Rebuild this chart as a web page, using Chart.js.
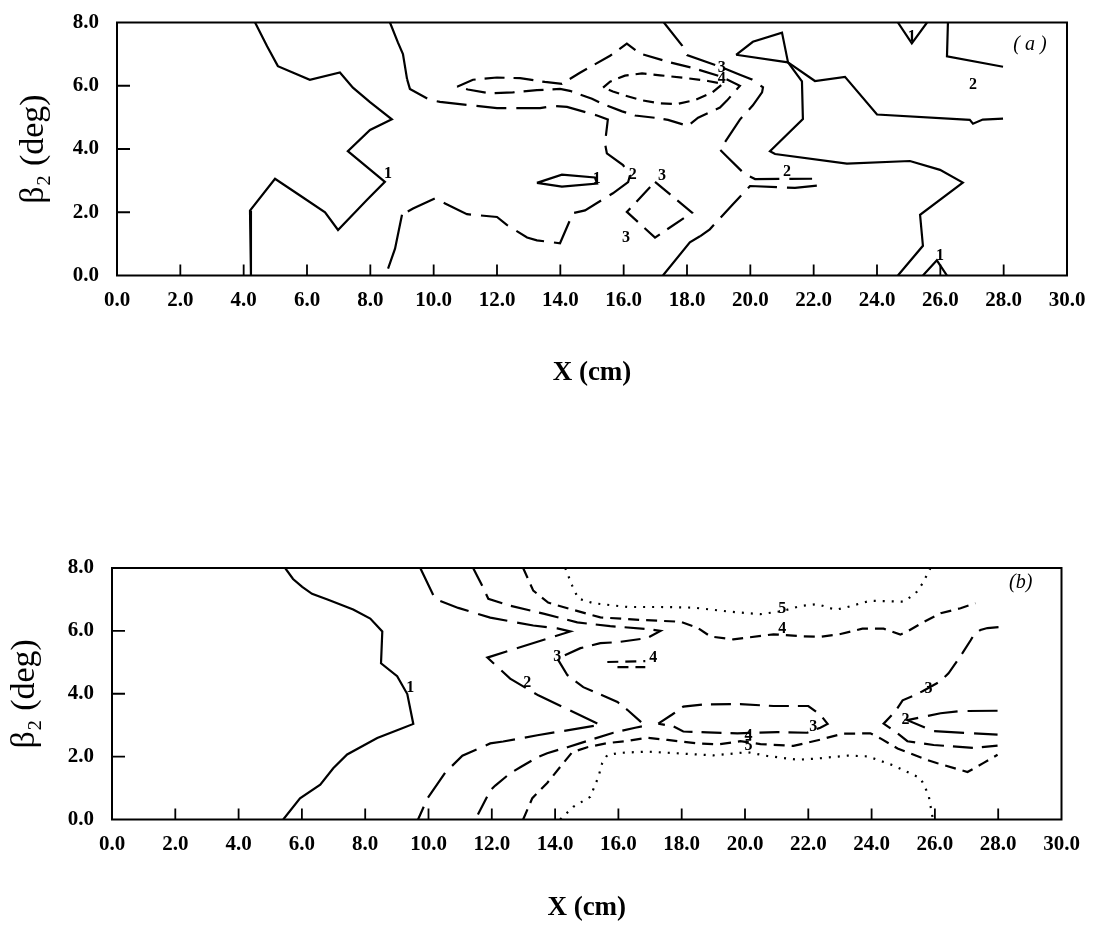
<!DOCTYPE html>
<html><head><meta charset="utf-8">
<script src="https://cdn.jsdelivr.net/npm/chart.js@4.4.1/dist/chart.umd.min.js"></script>
<style>
html,body{margin:0;padding:0;background:#fff;width:1094px;height:938px;overflow:hidden;}
canvas{position:absolute;left:0;}
#ca{top:0;}
#cb{top:450px;}
</style></head><body>
<canvas id="ca" width="1094" height="400" style="width:1094px;height:400px"></canvas>
<canvas id="cb" width="1094" height="488" style="width:1094px;height:488px"></canvas>
<script>
// ---------- axes ----------
const xTickValues = [0,2,4,6,8,10,12,14,16,18,20,22,24,26,28,30];
const xTickLabels = ['0.0','2.0','4.0','6.0','8.0','10.0','12.0','14.0','16.0','18.0','20.0','22.0','24.0','26.0','28.0','30.0'];
const yTickValues = [0,2,4,6,8];
const yTickLabels = ['0.0','2.0','4.0','6.0','8.0'];
const xTitle = 'X (cm)';
const yTitle = 'β₂ (deg)';

// ---------- panel (a) contour lines: [x, y] ----------
const a1Left = [[4.36,8.0],[4.74,7.25],[5.08,6.62],[6.09,6.19],[7.04,6.42],[7.45,5.94],[7.99,5.48],[8.68,4.94],[7.99,4.60],[7.29,3.93],[8.46,2.96],[7.89,2.39],[6.98,1.44],[6.57,2.0],[5.78,2.53],[4.99,3.06],[4.20,2.05],[4.23,1.26],[4.23,0]];
const a1Top = [[8.62,8.0],[8.87,7.37],[9.03,7.0],[9.16,6.21]];
const a2Loop = [[9.16,6.21],[9.25,5.90],[9.88,5.55],[10.2,5.49],[12.0,5.29],[13.36,5.29],[13.77,5.36],[14.21,5.33],[15.16,5.06],[15.50,4.93],[15.41,4.18],[15.47,3.86],[15.98,3.49],[16.20,3.17],[16.14,2.95],[15.66,2.60],[14.78,2.06],[14.40,1.97],[13.99,1.02],[13.26,1.11],[12.95,1.20],[12.31,1.60],[12.0,1.85],[11.05,1.94],[10.36,2.28],[10.04,2.44],[9.35,2.12],[9.0,1.92]];
const a1Bottom = [[9.0,1.92],[8.78,0.85],[8.56,0.22]];
const a3Loop = [[10.74,5.97],[11.24,6.19],[12.0,6.26],[12.73,6.24],[13.51,6.12],[14.05,6.06],[14.62,6.41],[15.57,6.95],[16.10,7.33],[16.51,7.02],[17.46,6.74],[18.19,6.56],[19.10,6.28],[19.67,6.0],[19.26,5.53],[19.04,5.31],[18.35,4.99],[18.03,4.73],[17.40,4.92],[17.05,4.98],[16.36,5.06],[15.95,5.19],[15.31,5.44],[15.0,5.59],[14.30,5.84],[13.99,5.90],[13.26,5.86],[12.50,5.79],[11.78,5.76],[11.08,5.88],[10.74,5.97]];
const a4Loop = [[15.35,5.94],[15.57,6.13],[16.04,6.32],[16.58,6.39],[17.15,6.33],[18.0,6.24],[18.66,6.15],[19.13,6.06],[18.79,5.78],[18.25,5.55],[17.68,5.42],[17.08,5.45],[16.58,5.54],[16.04,5.69],[15.66,5.82],[15.35,5.94]];
const a2RightUpper = [[17.27,8.0],[17.84,7.28],[18.0,6.97],[19.13,6.57],[19.67,6.35],[20.05,6.20],[20.40,5.95],[20.37,5.79],[20.08,5.38],[19.67,4.93],[19.04,3.98],[19.29,3.73],[19.83,3.20],[20.15,3.05],[21.95,3.06]];
const a2RightLower = [[22.10,2.84],[21.41,2.77],[19.99,2.83],[19.45,2.25],[18.72,1.46],[18.41,1.24]];
const a2RightFoot = [[18.41,1.24],[18.09,1.05],[17.24,0]];
const a1Triangle = [[19.55,6.98],[20.08,7.39],[21.0,7.68],[21.19,6.74],[19.55,6.98]];
const a1RightUpper = [[21.19,6.74],[22.04,6.15],[22.99,6.28],[24.0,5.09],[26.93,4.92],[27.03,4.80],[27.34,4.93],[27.98,4.96]];
const a1RightLower = [[21.19,6.74],[21.63,6.14],[21.66,4.95],[20.62,3.93],[20.78,3.84],[23.05,3.54],[25.04,3.62],[25.99,3.34],[26.71,2.94],[25.36,1.92],[25.45,0.94],[24.66,0]];
const a1TopV = [[24.66,8.0],[25.10,7.34],[25.58,8.0]];
const a2TopRight = [[26.24,8.0],[26.21,6.93],[27.98,6.60]];
const a1BottomPeak = [[25.45,0],[25.89,0.48],[26.21,0]];
const a1SmallLoop = [[13.26,2.93],[14.05,3.19],[15.09,3.10],[15.16,2.91],[14.05,2.81],[13.26,2.93]];
const a3Diamond = [[16.99,2.96],[18.16,1.99],[16.99,1.20],[16.10,2.01],[16.99,2.96]];

const aLabelText = ['1','1','2','3','3','3','4','2','2','1','1'];
const aLabelX = [8.56,15.15,16.29,17.21,16.07,19.10,19.10,21.16,27.03,25.10,25.99];
const aLabelY = [3.21,3.05,3.17,3.15,1.19,6.57,6.22,3.28,6.03,7.56,0.63];

// ---------- panel (b) contour lines ----------
const b1 = [[5.47,8.0],[5.72,7.65],[6.01,7.40],[6.32,7.18],[6.83,6.99],[7.62,6.68],[8.16,6.39],[8.54,5.98],[8.50,4.97],[9.01,4.56],[9.33,3.99],[9.52,3.04],[9.11,2.88],[8.38,2.59],[7.43,2.07],[6.99,1.63],[6.58,1.11],[5.94,0.67],[5.41,0]];
const b2 = [[9.74,8.0],[10.21,7.01],[10.94,6.73],[11.95,6.42],[13.31,6.17],[14.07,6.08],[14.48,5.98],[13.78,5.76],[11.86,5.15],[12.58,4.48],[13.47,3.95],[14.39,3.51],[15.43,3.01],[13.44,2.68],[12.36,2.48],[11.95,2.42],[11.07,2.03],[10.53,1.49],[9.96,0.66],[9.67,0]];
const b2Right = [[27.98,3.46],[26.81,3.45],[26.18,3.38],[25.13,3.16],[25.96,2.81],[27.98,2.70]];
const b3 = [[11.41,8.0],[11.73,7.37],[11.89,7.02],[12.58,6.80],[13.63,6.55],[14.70,6.27],[15.74,6.15],[16.91,6.06],[17.33,6.0],[16.91,5.77],[15.97,5.64],[15.43,5.61],[14.80,5.45],[14.07,5.12],[14.39,4.59],[14.89,4.21],[15.97,3.74],[16.28,3.49],[16.85,2.98],[16.53,2.92],[15.84,2.76],[14.80,2.43],[14.39,2.30],[13.75,2.11],[13.44,1.98],[12.90,1.66],[12.58,1.47],[12.11,1.08],[11.95,0.92],[11.48,0]];
const b3Right = [[28.01,6.12],[27.66,6.09],[27.44,6.03],[27.22,5.86],[27.13,5.70],[26.87,5.29],[26.43,4.65],[26.18,4.40],[25.61,4.08],[25.29,3.92],[24.98,3.79],[24.75,3.44],[24.38,3.05],[24.82,2.74],[25.13,2.49],[25.96,2.37],[27.22,2.28],[27.98,2.35]];
const b3Loop = [[17.26,3.05],[17.70,3.34],[18.05,3.59],[18.68,3.66],[19.85,3.67],[20.90,3.61],[22.0,3.61],[22.38,3.33],[22.61,3.04],[22.38,2.92],[21.97,2.76],[21.02,2.78],[19.76,2.74],[18.81,2.77],[18.05,2.80],[17.74,2.96],[17.26,3.05]];
const b4Upper = [[12.99,8.0],[13.31,7.28],[13.78,6.90],[14.42,6.71],[15.43,6.43],[16.69,6.35],[17.96,6.29],[18.50,6.10],[18.91,5.82],[19.63,5.73],[20.90,5.89],[21.75,5.83],[22.38,5.81],[23.02,5.90],[23.71,6.07],[24.38,6.07],[24.91,5.88],[25.13,5.98],[25.55,6.23],[26.18,6.56],[26.81,6.72],[27.28,6.88]];
const b4Lower = [[12.99,0],[13.28,0.68],[13.75,1.16],[14.16,1.67],[14.54,2.14],[15.02,2.30],[15.65,2.43],[16.28,2.50],[16.91,2.60],[17.55,2.53],[18.53,2.42],[19.16,2.39],[19.85,2.49],[20.49,2.40],[21.53,2.34],[22.38,2.54],[23.08,2.73],[23.96,2.74],[24.28,2.58],[24.82,2.26],[25.77,1.89],[26.08,1.79],[27.03,1.51],[27.54,1.80],[27.98,2.06]];
const b4SmallUpper = [[15.65,5.01],[16.85,5.04]];
const b4SmallLower = [[15.97,4.85],[16.85,4.85]];
const b5Upper = [[14.32,8.0],[14.54,7.44],[14.73,7.03],[15.21,6.88],[16.28,6.76],[17.33,6.76],[18.37,6.74],[19.44,6.62],[20.49,6.53],[21.18,6.63],[21.75,6.79],[22.29,6.85],[22.86,6.67],[23.24,6.76],[23.96,6.96],[25.01,6.93],[25.39,7.19],[25.61,7.51],[25.86,8.0]];
const b5Lower = [[14.16,0],[14.57,0.40],[15.11,0.72],[15.37,1.36],[15.49,1.80],[15.65,2.05],[16.06,2.12],[16.91,2.16],[17.96,2.10],[19.0,2.04],[20.08,2.14],[20.71,2.02],[21.66,1.90],[22.16,1.93],[23.24,2.03],[23.87,2.01],[24.69,1.72],[25.55,1.31],[25.80,0.78],[25.93,0.05]];

const bLabelText = ['1','2','3','4','5','4','3','2','3','4','5'];
const bLabelX = [9.42,13.12,14.07,17.10,21.18,21.18,25.80,25.07,22.16,20.11,20.11];
const bLabelY = [4.18,4.36,5.16,5.14,6.69,6.05,4.17,3.16,2.95,2.65,2.33];

// ---------- styles per contour level ----------
const levelDash = {1: [], 2: [30,10], 3: [20,9], 4: [11,7], 5: [2,7]};

function line(pts, level) {
  return {
    data: pts.map(p => ({x: p[0], y: p[1]})),
    showLine: true, fill: false, tension: 0,
    borderColor: '#000', borderWidth: level === 5 ? 2.2 : 2.2,
    borderDash: levelDash[level], pointRadius: 0, pointHoverRadius: 0
  };
}

const serif = '"Liberation Serif", "DejaVu Serif", serif';

const framePlugin = {
  id: 'frame',
  afterDatasetsDraw(chart, args, opts) {
    const {ctx, chartArea: a} = chart;
    const xs = chart.scales.x, ys = chart.scales.y;
    ctx.save();
    ctx.strokeStyle = '#000';
    ctx.lineWidth = 2;
    ctx.strokeRect(a.left, a.top, a.right - a.left, a.bottom - a.top);
    ctx.lineWidth = 1.8;
    ctx.beginPath();
    xTickValues.forEach(v => {
      if (v <= 0 || v >= 30) return;
      const px = xs.getPixelForValue(v);
      ctx.moveTo(px, a.bottom); ctx.lineTo(px, a.bottom - 11);
    });
    yTickValues.forEach(v => {
      if (v <= 0 || v >= 8) return;
      const py = ys.getPixelForValue(v);
      ctx.moveTo(a.left, py); ctx.lineTo(a.left + 13, py);
    });
    ctx.stroke();
    ctx.fillStyle = '#000';
    ctx.textAlign = 'center';
    ctx.textBaseline = 'middle';
    ctx.font = 'bold 16px ' + serif;
    opts.text.forEach((t, i) => {
      ctx.fillText(t, xs.getPixelForValue(opts.x[i]), ys.getPixelForValue(opts.y[i]));
    });
    ctx.font = 'italic 20px ' + serif;
    ctx.fillText(opts.tag, xs.getPixelForValue(opts.tagX), ys.getPixelForValue(opts.tagY));
    ctx.restore();
  }
};

function options(cfg, labels) {
  return {
    responsive: false,
    animation: false,
    layout: {padding: {top: cfg.top, right: cfg.right, left: 0, bottom: 0}},
    plugins: {
      legend: {display: false},
      tooltip: {enabled: false},
      frame: labels
    },
    scales: {
      x: {
        type: 'linear', position: 'bottom', min: 0, max: 30,
        ticks: {
          stepSize: 2, autoSkip: false, maxRotation: 0, minRotation: 0,
          padding: cfg.xPad, color: '#000',
          font: {family: serif, size: 21, weight: 'bold'},
          callback: v => xTickLabels[xTickValues.indexOf(v)]
        },
        grid: {display: false, drawTicks: false},
        border: {display: false},
        title: {display: true, text: xTitle, color: '#000',
          font: {family: serif, size: 27, weight: 'bold'},
          padding: {top: 0, bottom: cfg.xTitlePad}},
        afterFit: s => { s.height = cfg.xH; s.paddingLeft = 0; s.paddingRight = 0; }
      },
      y: {
        type: 'linear', position: 'left', min: 0, max: 8,
        ticks: {
          stepSize: 2, padding: 18, color: '#000',
          font: {family: serif, size: 21, weight: 'bold'},
          callback: v => yTickLabels[yTickValues.indexOf(v)]
        },
        grid: {display: false, drawTicks: false},
        border: {display: false},
        title: {display: true, text: yTitle, color: '#000',
          font: {family: serif, size: 34, weight: 'normal'},
          padding: {top: cfg.yTitlePad, bottom: 0}},
        afterFit: s => { s.width = cfg.yW; s.paddingTop = 0; s.paddingBottom = 0; }
      }
    }
  };
}

new Chart(document.getElementById('ca'), {
  type: 'scatter',
  data: {datasets: [
    line(a1Left, 1), line(a1Top, 1), line(a2Loop, 2), line(a1Bottom, 1),
    line(a3Loop, 3), line(a4Loop, 4),
    line(a2RightUpper, 2), line(a2RightLower, 2), line(a2RightFoot, 1),
    line(a1Triangle, 1), line(a1RightUpper, 1), line(a1RightLower, 1),
    line(a1TopV, 1), line(a2TopRight, 1), line(a1BottomPeak, 1),
    line(a1SmallLoop, 1), line(a3Diamond, 3)
  ]},
  options: options(
    {top: 22.5, right: 27, xH: 124.5, yW: 117, xPad: 12, xTitlePad: 10.8, yTitlePad: 13.6},
    {text: aLabelText, x: aLabelX, y: aLabelY, tag: '( a )', tagX: 28.83, tagY: 7.30}
  ),
  plugins: [framePlugin]
});

new Chart(document.getElementById('cb'), {
  type: 'scatter',
  data: {datasets: [
    line(b1, 1), line(b2, 2), line(b2Right, 2),
    line(b3, 3), line(b3Right, 3), line(b3Loop, 3),
    line(b4Upper, 4), line(b4Lower, 4), line(b4SmallUpper, 4), line(b4SmallLower, 4),
    line(b5Upper, 5), line(b5Lower, 5)
  ]},
  options: options(
    {top: 118, right: 32.5, xH: 118.5, yW: 112, xPad: 12, xTitlePad: 13.8, yTitlePad: 4.6},
    {text: bLabelText, x: bLabelX, y: bLabelY, tag: '(b)', tagX: 28.71, tagY: 7.52}
  ),
  plugins: [framePlugin]
});
</script>
</body></html>
